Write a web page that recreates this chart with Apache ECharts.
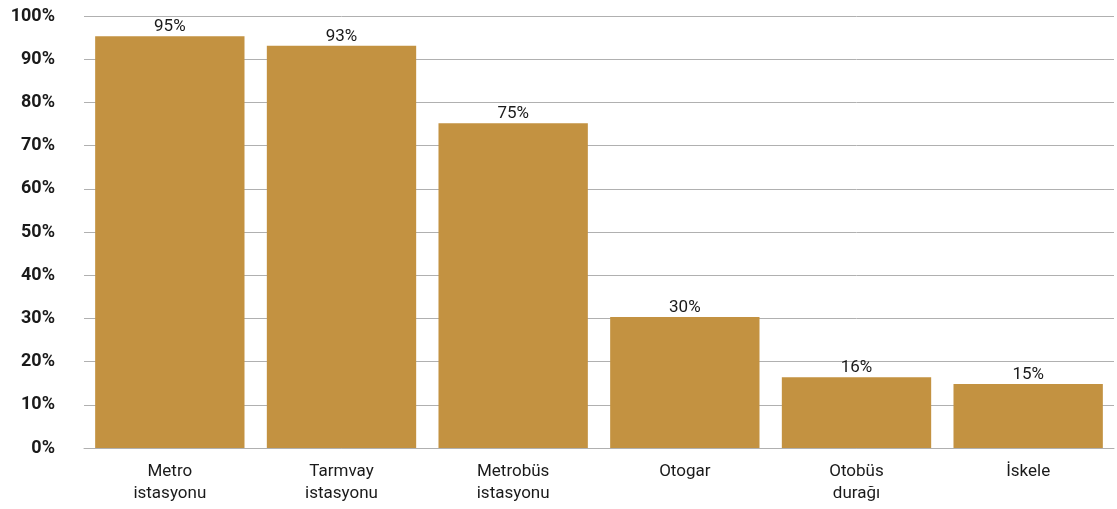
<!DOCTYPE html>
<html><head><meta charset="utf-8">
<script src="https://cdn.jsdelivr.net/npm/echarts@6/dist/echarts.min.js"></script>
<style>html,body{margin:0;padding:0;background:#fff}#c{width:1117px;height:509px}</style>
</head><body><div id="c"></div>
<script>
const categories = ['Metro\nistasyonu','Tarmvay\nistasyonu','Metrobüs\nistasyonu','Otogar','Otobüs\ndurağı','İskele'];
const values = [95.3, 93.1, 75.2, 30.3, 16.4, 14.8];
const yTicks = {min:0, max:100, interval:10};
const chart = echarts.init(document.getElementById('c'));
chart.setOption({
  animation:false,
  grid:{left:84, right:3, top:16, bottom:61},
  xAxis:{type:'category', data:categories,
    axisLine:{show:true, lineStyle:{color:'#b0b0b0', width:1}},
    axisTick:{show:false},
    axisLabel:{color:'#1a1a1a', fontFamily:'Roboto', fontSize:17, lineHeight:22, margin:13}},
  yAxis:{type:'value', min:yTicks.min, max:yTicks.max, interval:yTicks.interval,
    axisLabel:{formatter:'{value}%', color:'#1a1a1a', fontFamily:'Roboto', fontWeight:'bold', fontSize:18, margin:29},
    splitLine:{lineStyle:{color:'#b0b0b0', width:1}},
    axisLine:{show:false}, axisTick:{show:false}},
  series:[{type:'bar', data:values, barCategoryGap:'13%',
    itemStyle:{color:'#C39241'},
    label:{show:true, position:'top', distance:1, color:'#1a1a1a', fontFamily:'Roboto', fontSize:17,
      formatter:p=>Math.round(p.value)+'%'}}]
});
</script></body></html>
